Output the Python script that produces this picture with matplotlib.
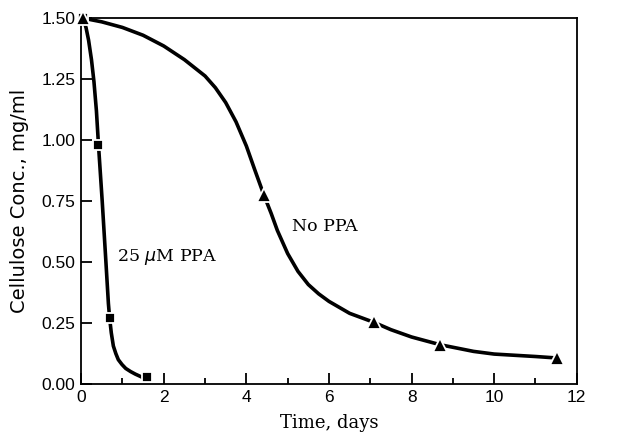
import matplotlib
matplotlib.use("Agg")
import matplotlib.pyplot as plt
from matplotlib.ticker import MultipleLocator, FormatStrFormatter

# measured points
ppa_x = [0.05, 0.42, 0.69, 1.60]
ppa_y = [1.50, 0.98, 0.27, 0.027]
noppa_x = [0.05, 4.42, 7.09, 8.70, 11.51]
noppa_y = [1.50, 0.777, 0.253, 0.161, 0.107]

# hand-drawn curves
ppa_curve_x = [0.05, 0.12, 0.18, 0.25, 0.31, 0.37, 0.42, 0.51, 0.60, 0.66, 0.69,
               0.73, 0.78, 0.84, 0.90, 0.99, 1.08, 1.20, 1.31, 1.40, 1.49]
ppa_curve_y = [1.50, 1.46, 1.41, 1.33, 1.24, 1.12, 0.98, 0.75, 0.50, 0.33, 0.27,
               0.21, 0.156, 0.125, 0.10, 0.08, 0.064, 0.051, 0.041, 0.034, 0.027]
noppa_curve_x = [0.05, 0.5, 1.0, 1.5, 2.0, 2.5, 3.0, 3.25, 3.5, 3.75, 4.0, 4.2, 4.42,
                 4.6, 4.75, 5.0, 5.25, 5.5, 5.75, 6.0, 6.5, 7.09, 7.5, 8.0, 8.7,
                 9.5, 10.0, 10.5, 11.0, 11.51]
noppa_curve_y = [1.50, 1.485, 1.462, 1.43, 1.386, 1.33, 1.263, 1.215, 1.154, 1.075,
                 0.976, 0.88, 0.777, 0.70, 0.63, 0.535, 0.462, 0.408, 0.37, 0.339,
                 0.29, 0.253, 0.223, 0.193, 0.161, 0.134, 0.123, 0.118, 0.113, 0.107]

fig = plt.figure(figsize=(6.29, 4.33), dpi=100)
ax = fig.add_axes([0.129, 0.113, 0.788, 0.845])

ax.plot(ppa_curve_x, ppa_curve_y, 'k-', linewidth=2.6, solid_joinstyle='round', clip_on=False)
ax.plot(noppa_curve_x, noppa_curve_y, 'k-', linewidth=2.6, solid_joinstyle='round', clip_on=False)
ax.plot(ppa_x, ppa_y, 's', color='black', markersize=7.5, markeredgecolor='white',
        markeredgewidth=1.3, clip_on=False, zorder=3)
ax.plot(noppa_x, noppa_y, '^', color='black', markersize=10, markeredgecolor='white',
        markeredgewidth=1.3, clip_on=False, zorder=3)

ax.text(5.1, 0.645, "No PPA", family="DejaVu Serif", fontsize=12.5, va='center')
ax.text(0.86, 0.52, "25 $\\mu$M PPA", family="DejaVu Serif", fontsize=12.5, va='center')

ax.set_xlim(0, 12)
ax.set_ylim(0, 1.5)
ax.xaxis.set_major_locator(MultipleLocator(2))
ax.xaxis.set_minor_locator(MultipleLocator(1))
ax.yaxis.set_major_locator(MultipleLocator(0.25))
ax.yaxis.set_major_formatter(FormatStrFormatter('%.2f'))
ax.tick_params(axis='both', which='major', direction='in', length=8, width=1.3,
               labelsize=12.5, pad=4)
ax.tick_params(axis='x', which='minor', direction='in', length=4, width=1.3)
for lab in ax.get_xticklabels() + ax.get_yticklabels():
    lab.set_family("Liberation Sans")

for s in ax.spines.values():
    s.set_linewidth(1.3)

ax.set_xlabel("Time, days", family="DejaVu Serif", fontsize=13, labelpad=7)
ax.set_ylabel("Cellulose Conc., mg/ml", family="DejaVu Sans", fontsize=14, labelpad=9)

fig.savefig("out.png", dpi=100)
